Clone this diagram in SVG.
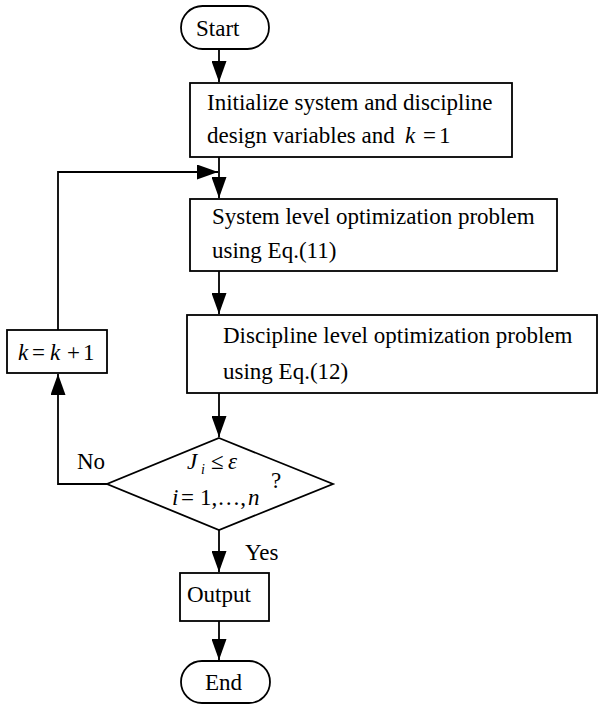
<svg xmlns="http://www.w3.org/2000/svg" width="599" height="708" viewBox="0 0 599 708">
<style>
.s{fill:#fff;stroke:#000;stroke-width:1.8}
.l{fill:none;stroke:#000;stroke-width:1.8}
text{font-family:"Liberation Serif","Times New Roman",serif;font-size:23px;fill:#000}
.i{font-style:italic}
</style>
<defs>
<marker id="a" markerUnits="userSpaceOnUse" markerWidth="22" markerHeight="15" refX="21" refY="7.5" orient="auto"><path d="M0,0 L21,7.5 L0,15 z" fill="#000"/></marker>
</defs>
<rect width="599" height="708" fill="#fff"/>
<g id="connectors">
<line class="l" x1="219" y1="49" x2="219" y2="82" marker-end="url(#a)"/>
<line class="l" x1="219" y1="157" x2="219" y2="198" marker-end="url(#a)"/>
<polyline class="l" points="58,330 58,172 218,172" marker-end="url(#a)"/>
<line class="l" x1="219" y1="271" x2="219" y2="314" marker-end="url(#a)"/>
<line class="l" x1="219" y1="393" x2="219" y2="437" marker-end="url(#a)"/>
<polyline class="l" points="107,484 58,484 58,374" marker-end="url(#a)"/>
<line class="l" x1="219" y1="530" x2="219" y2="572" marker-end="url(#a)"/>
<line class="l" x1="219" y1="621" x2="219" y2="660" marker-end="url(#a)"/>
<text x="77" y="469">No</text>
<text x="245" y="560">Yes</text>
</g>
<g id="start">
<rect class="s" x="181" y="6" width="88" height="43" rx="21.5"/>
<text x="196" y="36">Start</text>
</g>
<g id="init">
<rect class="s" x="190" y="83" width="322" height="74"/>
<text x="207" y="110">Initialize system and discipline</text>
<text x="207" y="143">design variables and <tspan class="i" x="405">k</tspan><tspan x="423">=</tspan><tspan x="439">1</tspan></text>
</g>
<g id="system">
<rect class="s" x="190" y="199" width="367" height="72"/>
<text x="212" y="224">System level optimization problem</text>
<text x="212" y="258">using Eq.(11)</text>
</g>
<g id="discipline">
<rect class="s" x="187" y="315" width="410" height="78"/>
<text x="223" y="343">Discipline level optimization problem</text>
<text x="223" y="379">using Eq.(12)</text>
</g>
<g id="update">
<rect class="s" x="7" y="330" width="100" height="43"/>
<text x="18" y="360"><tspan class="i">k</tspan><tspan x="32">=</tspan><tspan class="i" x="50">k</tspan><tspan x="67">+</tspan><tspan x="83">1</tspan></text>
</g>
<g id="check">
<polygon class="s" points="219,438 333,484 219,530 107,484"/>
<text x="187" y="469"><tspan class="i">J</tspan><tspan class="i" x="201" y="474" font-size="14">i</tspan><tspan x="211" y="469">≤</tspan><tspan class="i" x="228">ε</tspan></text>
<text x="271" y="488">?</text>
<text x="172" y="505"><tspan class="i">i</tspan><tspan x="181">=</tspan><tspan x="200">1,…,</tspan><tspan class="i" x="248">n</tspan></text>
</g>
<g id="output">
<rect class="s" x="180" y="573" width="89" height="48"/>
<text x="187" y="602">Output</text>
</g>
<g id="end">
<rect class="s" x="181" y="661" width="89" height="42" rx="21"/>
<text x="205" y="690">End</text>
</g>
</svg>
